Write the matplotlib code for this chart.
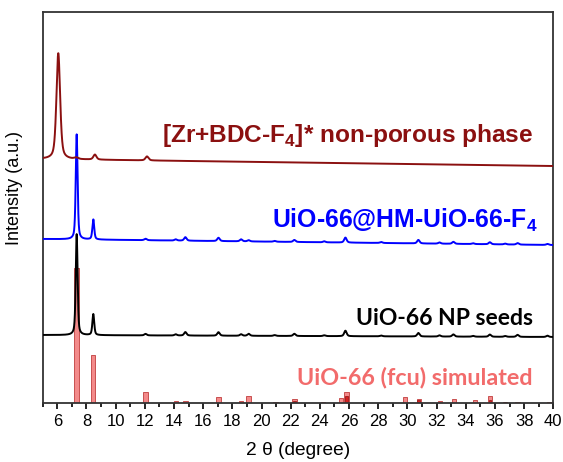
import matplotlib
matplotlib.use("Agg")
import matplotlib.pyplot as plt
import numpy as np
from matplotlib.ticker import MultipleLocator

plt.rcParams["mathtext.fontset"] = "custom"
plt.rcParams["mathtext.rm"] = "Liberation Sans"
plt.rcParams["mathtext.bf"] = "Liberation Sans:bold"

# peak tables: position (deg), height above baseline, FWHM (deg)
seed_pos = [7.33, 8.47, 12.05, 14.12, 14.78, 17.05, 18.6, 19.12, 20.9, 22.25, 24.3, 25.75,
            28.2, 30.75, 32.2, 33.15, 34.5, 35.65, 36.7, 37.55, 39.6]
seed_h = [101, 21, 1.5, 1.2, 3.5, 3.5, 1.5, 2, 0.8, 2.2, 0.8, 5.5, 0.8, 3.5, 1.2, 2.2, 0.8, 2.2, 0.8, 2, 1.3]
seed_w = [0.15, 0.15, 0.2, 0.2, 0.2, 0.2, 0.2, 0.2, 0.2, 0.2, 0.2, 0.2,
          0.2, 0.2, 0.2, 0.2, 0.2, 0.2, 0.2, 0.2, 0.2]
seed_base = (68, 66)          # baseline at 5 deg and 40 deg

hm_pos = seed_pos
hm_h = [105, 20, 1.5, 1.2, 3.5, 3.3, 2, 1.2, 0.8, 2, 1, 5, 1, 3.5, 1.2, 2, 0.8, 2, 0.8, 1.5, 1]
hm_w = seed_w
hm_base = (164, 158)

np_pos = [6.07, 7.3, 8.58, 12.15]
np_h = [106, 1.5, 5, 4]
np_w = [0.3, 0.3, 0.25, 0.25]
np_base = (244, 237)

sim_pos = [7.33, 8.47, 12.05, 14.12, 14.78, 17.05, 18.6, 19.12, 20.95, 22.25, 24.2, 25.45,
           25.82, 27.4, 29.85, 30.78, 32.25, 33.2, 34.65, 35.65, 36.7, 37.55, 38.9, 39.7]
sim_h = [135, 48, 11.5, 2.3, 2.3, 5.7, 2.3, 7.5, 1.3, 4.3, 0.8, 4.7,
         10.7, 0.5, 5.7, 4, 2.3, 4, 3.3, 7, 1, 1.5, 0.5, 1]
# darker overlapped reflections
sim_dark_pos = [22.25, 25.82, 30.78, 35.65, 36.7]
sim_dark_h = [2.5, 7, 3.5, 3.5, 0.8]

labels = ["[Zr+BDC-F$_\\mathbf{4}$]* non-porous phase", "UiO-66@HM-UiO-66-F$_\\mathbf{4}$",
          "UiO-66 NP seeds", "UiO-66 (fcu) simulated"]
label_y = [268, 183, 85, 26]


def profile(x, pos, h, w, base, eta=0.5):
    y = base[0] + (base[1] - base[0]) * (x - 5) / 35
    for p, a, f in zip(pos, h, w):
        g = f / 2
        lor = 1 / (1 + ((x - p) / g) ** 2)
        gau = np.exp(-np.log(2) * ((x - p) / g) ** 2)
        y = y + a * (eta * lor + (1 - eta) * gau)
    return y


x = np.linspace(5, 40, 7001)

fig = plt.figure(figsize=(5.63, 4.62), dpi=100)
ax = fig.add_axes([0.0758, 0.1277, 0.907, 0.8463])

ax.bar(sim_pos, sim_h, width=0.3, color="#f38a8a", edgecolor="#c85050", linewidth=0.7, zorder=1)
ax.bar(sim_dark_pos, sim_dark_h, width=0.18, color="#d42020", edgecolor="#901010", linewidth=0.5, zorder=1)

ax.plot(x, profile(x, seed_pos, seed_h, seed_w, seed_base), color="black", lw=1.4, zorder=3)
ax.plot(x, profile(x, hm_pos, hm_h, hm_w, hm_base), color="#0000ff", lw=1.4, zorder=3)
ax.plot(x, profile(x, np_pos, np_h, np_w, np_base), color="#8b1010", lw=1.4, zorder=3)

colors = ["#8b1010", "#0000ff", "black", "#f26b6b"]
fams = ["Liberation Sans", "Liberation Sans", "Lato", "Lato"]
sizes = [17.6, 17.8, 16.5, 16.8]
label_x = [38.6, 38.9, 38.6, 38.6]
for lab, xx, yy, c, fam, fs in zip(labels, label_x, label_y, colors, fams, sizes):
    ax.text(xx, yy, lab, color=c, fontsize=fs, fontweight="bold", family=fam,
            ha="right", va="center")

ax.set_xlim(5, 40)
ax.set_ylim(0, 391)
ax.xaxis.set_major_locator(MultipleLocator(2))
ax.xaxis.set_minor_locator(MultipleLocator(1))
ax.set_yticks([])
ax.tick_params(axis="x", which="major", direction="out", length=4.5, width=1.2, labelsize=12)
ax.tick_params(axis="x", which="minor", direction="out", length=3, width=1.2)
for lab in ax.get_xticklabels():
    lab.set_family("Liberation Sans")
for s in ax.spines.values():
    s.set_linewidth(1.3)
    s.set_color("#333333")

ax.set_xlabel("2 θ (degree)", fontsize=13.8, family="Liberation Sans", labelpad=9)
ax.set_ylabel("Intensity (a.u.)", fontsize=13, family="Liberation Sans")
ax.yaxis.set_label_coords(-0.038, 0.55)

fig.savefig("out.png", dpi=100)
